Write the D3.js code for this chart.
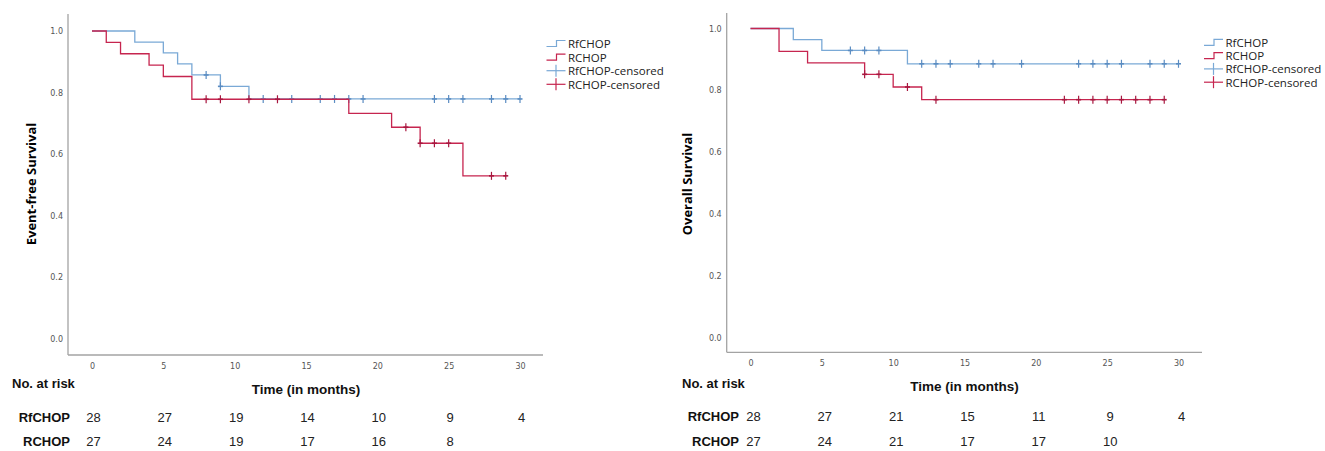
<!DOCTYPE html>
<html><head><meta charset="utf-8">
<script src="https://cdn.jsdelivr.net/npm/d3@7"></script>
<style>body{margin:0;background:#fff}svg{display:block}</style>
</head><body>
<svg id="c" width="1325" height="451"></svg>
<script>
// ---------- data ----------
const legendLabels = ["RfCHOP", "RCHOP", "RfCHOP-censored", "RCHOP-censored"];
const rowLabels = ["RfCHOP", "RCHOP"];
const xTicks = [0, 5, 10, 15, 20, 25, 30];
const yTicks = [0, 0.2, 0.4, 0.6, 0.8, 1.0];
const riskTimes = [0, 5, 10, 15, 20, 25, 30];

// Event-free survival
const efsRfTimes = [0, 3, 5, 6, 7, 9, 11];
const efsRfSurv  = [1, 0.964, 0.929, 0.893, 0.857, 0.820, 0.779];
const efsRfEnd = 30;
const efsRfCens = [8, 9, 12, 14, 16, 17, 18, 19, 24, 25, 26, 28, 29, 30];
const efsRTimes = [0, 1, 2, 4, 5, 7, 18, 21, 23, 26];
const efsRSurv  = [1, 0.963, 0.926, 0.889, 0.852, 0.778, 0.732, 0.687, 0.635, 0.529];
const efsREnd = 29;
const efsRCens = [8, 9, 11, 13, 22, 23, 24, 25, 28, 29];
const efsRiskRf = [28, 27, 19, 14, 10, 9, 4];
const efsRiskR  = [27, 24, 19, 17, 16, 8];

// Overall survival
const osRfTimes = [0, 3, 5, 11];
const osRfSurv  = [1, 0.964, 0.929, 0.886];
const osRfEnd = 30;
const osRfCens = [7, 8, 9, 12, 13, 14, 16, 17, 19, 23, 24, 25, 26, 28, 29, 30];
const osRTimes = [0, 2, 4, 8, 10, 12];
const osRSurv  = [1, 0.926, 0.889, 0.852, 0.811, 0.770];
const osREnd = 29;
const osRCens = [8, 9, 11, 13, 22, 23, 24, 25, 26, 27, 28, 29];
const osRiskRf = [28, 27, 21, 15, 11, 9, 4];
const osRiskR  = [27, 24, 21, 17, 17, 10];

// ---------- drawing ----------
const BLUE = "#7aa9d6", BLUE_D = "#5a8cc2";
const RED = "#c6254f", RED_D = "#a8173f";
const svg = d3.select("#c");

function panel(o) {
  const g = svg.append("g");
  const x = d3.scaleLinear().domain([0, 30]).range(o.xr);
  const y = d3.scaleLinear().domain([0, 1]).range(o.yr);

  // axis lines
  g.append("line").attr("x1", o.axX).attr("x2", o.axX).attr("y1", o.axTop).attr("y2", o.axY)
    .attr("stroke", "#a3a3a3").attr("stroke-width", 1.3);
  g.append("line").attr("x1", o.axX).attr("x2", o.axRight).attr("y1", o.axY).attr("y2", o.axY)
    .attr("stroke", "#a3a3a3").attr("stroke-width", 1.3);

  // y tick labels
  const ya = g.append("g").attr("transform", `translate(${o.axX - 2},0)`)
    .call(d3.axisLeft(y).tickValues(yTicks).tickFormat(d3.format(".1f")).tickSize(0));
  ya.select(".domain").remove();
  ya.selectAll("text").attr("font-family", "DejaVu Sans").attr("font-size", 8).attr("fill", "#555");

  // x tick labels
  const xa = g.append("g").attr("transform", `translate(0,${o.axY + 5})`)
    .call(d3.axisBottom(x).tickValues(xTicks).tickFormat(d3.format("d")).tickSize(0));
  xa.select(".domain").remove();
  xa.selectAll("text").attr("font-family", "DejaVu Sans").attr("font-size", 8).attr("fill", "#555");

  // titles
  g.append("text").attr("transform", `translate(${o.yTitleX},${o.yTitleY}) rotate(-90)`)
    .attr("text-anchor", "middle").attr("font-family", "Open Sans").attr("font-weight", 700)
    .attr("font-size", 13).attr("fill", "#000").text(o.yTitle);
  g.append("text").attr("x", x(15)).attr("y", o.xTitleY).attr("text-anchor", "middle")
    .attr("dominant-baseline", "central")
    .attr("font-family", "Liberation Sans").attr("font-weight", 700).attr("font-size", 13.5)
    .attr("fill", "#111").text("Time (in months)");

  // curves
  const line = d3.line().x(d => x(d[0])).y(d => y(d[1])).curve(d3.curveStepAfter);
  o.series.forEach(s => {
    const pts = s.times.map((t, i) => [t, s.surv[i]]);
    pts.push([s.end, s.surv[s.surv.length - 1]]);
    g.append("path").attr("d", line(pts)).attr("fill", "none")
      .attr("stroke", s.color).attr("stroke-width", 1.3);
    const survAt = t => { let v = 1; s.times.forEach((tt, i) => { if (tt <= t) v = s.surv[i]; }); return v; };
    s.cens.forEach(t => {
      const cx = x(t), cy = y(survAt(t));
      g.append("line").attr("x1", cx).attr("x2", cx).attr("y1", cy - 4).attr("y2", cy + 4)
        .attr("stroke", s.dark).attr("stroke-width", 1.2);
      g.append("line").attr("x1", cx - 2.5).attr("x2", cx + 2.5).attr("y1", cy).attr("y2", cy)
        .attr("stroke", s.dark).attr("stroke-width", 1.6);
    });
  });

  // legend
  const lg = g.append("g").attr("transform", `translate(${o.legX},${o.legY})`);
  const cols = [BLUE, RED, BLUE, RED];
  legendLabels.forEach((lab, i) => {
    const yy = i * o.legDy;
    if (i < 2) {
      lg.append("path").attr("d", `M0,${yy + 3}H10V${yy - 3}H19`).attr("fill", "none")
        .attr("stroke", cols[i]).attr("stroke-width", 1.2);
    } else {
      lg.append("line").attr("x1", 0).attr("x2", 19).attr("y1", yy).attr("y2", yy)
        .attr("stroke", cols[i]).attr("stroke-width", 1.2);
      lg.append("line").attr("x1", 9.5).attr("x2", 9.5).attr("y1", yy - 6).attr("y2", yy + 6)
        .attr("stroke", cols[i]).attr("stroke-width", 1.2);
    }
    lg.append("text").attr("x", 21.5).attr("y", yy).attr("dominant-baseline", "central")
      .attr("font-family", "Open Sans").attr("font-size", 11.5).attr("fill", "#222").text(lab);
  });

  // risk table
  g.append("text").attr("x", o.nrX).attr("y", o.nrY).attr("dominant-baseline", "central")
    .attr("font-family", "Liberation Sans").attr("font-weight", 700).attr("font-size", 13)
    .attr("fill", "#111").text("No. at risk");
  [o.riskRf, o.riskR].forEach((arr, r) => {
    const yy = o.rowY[r];
    g.append("text").attr("x", o.rowLabX).attr("y", yy).attr("text-anchor", "end")
      .attr("dominant-baseline", "central").attr("font-family", "Liberation Sans")
      .attr("font-weight", 700).attr("font-size", 13).attr("fill", "#111").text(rowLabels[r]);
    arr.forEach((v, i) => {
      g.append("text").attr("x", x(riskTimes[i]) + o.numDx).attr("y", yy).attr("text-anchor", "middle")
        .attr("dominant-baseline", "central").attr("font-family", "Liberation Sans")
        .attr("font-size", 13).attr("fill", "#222").text(v);
    });
  });
}

panel({
  xr: [92, 520], yr: [338.5, 31], axX: 68, axTop: 14, axY: 355, axRight: 543,
  yTitle: "Event-free Survival", yTitleX: 36, yTitleY: 184, xTitleY: 389,
  legX: 546.5, legY: 43.5, legDy: 13.6,
  nrX: 12, nrY: 383.5, rowLabX: 70, rowY: [417, 441.5], numDx: 1.5,
  riskRf: efsRiskRf, riskR: efsRiskR,
  series: [
    {times: efsRfTimes, surv: efsRfSurv, end: efsRfEnd, cens: efsRfCens, color: BLUE, dark: BLUE_D},
    {times: efsRTimes, surv: efsRSurv, end: efsREnd, cens: efsRCens, color: RED, dark: RED_D}
  ]
});
panel({
  xr: [750.5, 1178.5], yr: [338, 28.5], axX: 726.7, axTop: 13, axY: 352.3, axRight: 1202,
  yTitle: "Overall Survival", yTitleX: 691.5, yTitleY: 184, xTitleY: 386,
  legX: 1204, legY: 42.3, legDy: 13.3,
  nrX: 682, nrY: 383, rowLabX: 739, rowY: [416.5, 441.5], numDx: 3,
  riskRf: osRiskRf, riskR: osRiskR,
  series: [
    {times: osRfTimes, surv: osRfSurv, end: osRfEnd, cens: osRfCens, color: BLUE, dark: BLUE_D},
    {times: osRTimes, surv: osRSurv, end: osREnd, cens: osRCens, color: RED, dark: RED_D}
  ]
});
</script>
</body></html>
